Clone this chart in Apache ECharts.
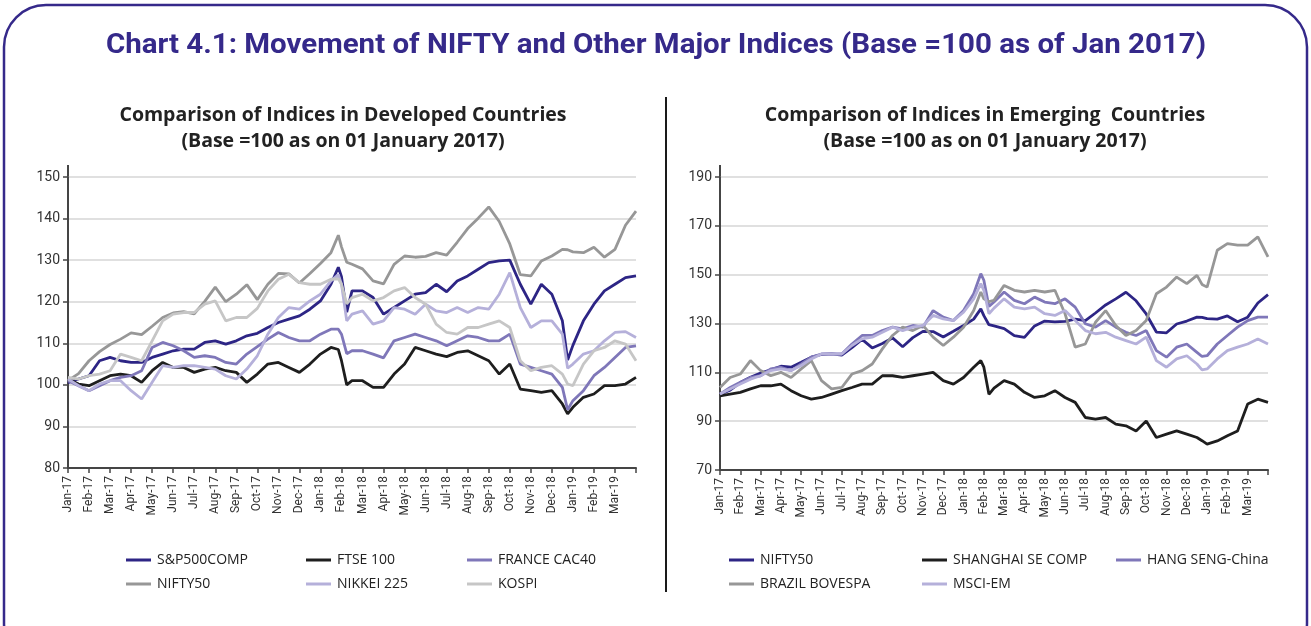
<!DOCTYPE html>
<html>
<head>
<meta charset="utf-8">
<script src="https://cdn.jsdelivr.net/npm/echarts@6/dist/echarts.min.js"></script>
<style>
  html, body { margin: 0; padding: 0; background: #fff; }
  #main { width: 1311px; height: 626px; }
</style>
</head>
<body>
<div id="main"></div>
<script>
// tick labels (one per month, Jan-17 .. Mar-19)
var monthLabels = ['Jan-17','Feb-17','Mar-17','Apr-17','May-17','Jun-17','Jul-17','Aug-17','Sep-17','Oct-17','Nov-17','Dec-17',
  'Jan-18','Feb-18','Mar-18','Apr-18','May-18','Jun-18','Jul-18','Aug-18','Sep-18','Oct-18','Nov-18','Dec-18',
  'Jan-19','Feb-19','Mar-19'];

// sample dates, in months since 1 Jan 2017
var times = [0,0.5,1,1.5,2,2.5,3,3.5,4,4.5,5,5.5,6,6.5,7,7.5,8,8.5,9,9.5,10,10.5,11,11.5,
  12,12.5,12.85,13,13.25,13.5,14,14.5,15,15.5,16,16.5,17,17.5,18,18.5,19,19.5,20,20.5,21,21.5,22,22.5,23,23.5,23.75,
  24,24.5,25,25.5,26,26.5,27];

// developed countries
var sp500 = [100.5,101.4,102.2,105.8,106.6,105.8,105.4,105.4,106.6,107.4,108.2,108.6,108.6,110.2,110.6,109.8,110.6,111.8,112.4,113.8,115,115.8,116.6,118.2,
  120.2,124.2,128.3,126,117.5,122.6,122.6,121,117,118.6,120.2,121.8,122.2,124.2,122.4,125,126.2,127.8,129.4,129.8,130,124.2,119.4,124.2,121.8,115.4,106,
  109.5,115.4,119.4,122.6,124.2,125.8,126.2];
var ftse = [101.4,100.2,99.8,101,102.2,102.6,102.2,100.6,103.4,105.4,104.2,104.2,103,103.8,104.2,103.4,103,100.6,102.6,105,105.4,104.2,103,105,
  107.4,109,108.5,105.8,100,101,101,99.4,99.4,102.6,105,109,108.2,107.4,106.8,107.8,108.2,107,105.8,102.6,105,99,98.6,98.2,98.6,95.4,93,
  94.6,97,97.8,99.8,99.8,100.2,101.8];
var cac40 = [101,99.8,98.6,99.8,101,101.8,102.2,103.4,109,110.2,109.4,108.2,106.6,107,106.6,105.4,105,107.4,109.2,111,112.6,111.4,110.6,110.6,
  112.2,113.4,113.4,112.2,107.5,108.2,108.2,107.4,106.5,110.6,111.4,112.2,111.4,110.6,109.4,110.6,111.8,111.4,110.6,110.6,112.2,105,104.2,103.4,102.6,99.4,94,
  96.2,98.6,102.2,104.2,106.6,109,109.4];
var nifty = [101,102.7,105.8,108,109.7,111,112.5,112.1,114.1,116.2,117.3,117.6,117.1,120.1,123.5,120,121.8,124.1,120.5,124.2,126.8,126.7,124.5,126.8,
  129.2,131.8,136,133.2,129.5,129,127.9,125,124.3,129,131,130.7,130.9,131.8,131.2,134.3,137.6,140.1,142.8,139.3,133.9,126.5,126.2,129.8,131,132.6,132.5,
  132,131.8,133.1,130.7,132.6,138.4,141.8];
var nikkei = [101.4,99.8,98.6,100.2,101,101,98.6,96.6,100.6,104.6,104.2,104.6,104.6,104.2,103.8,102.2,101.4,103.8,107,112.2,116.2,118.6,118.2,120.2,
  121.8,125,126.5,124.2,115.4,117,117.8,114.6,115.4,118.6,118.2,117,119.4,117.8,117.4,118.6,117.4,118.6,118.2,121.8,127,118.6,113.8,115.4,115.4,112.2,104,
  105,107.4,108.2,110.6,112.6,112.8,111.4];
var kospi = [101.8,101.4,102.2,102.6,103.4,107.4,106.6,105.8,110.6,115.4,117,117.4,117.4,119.4,120.2,115.4,116.2,116.2,118.4,122.6,125.4,126.6,124.6,124.2,
  124.2,125.4,125.5,124.2,119.5,121,121.8,120.2,121,122.6,123.4,121,119.4,114.6,112.6,112.2,113.8,113.8,114.6,115.4,113.8,105.8,103.4,104.2,104.6,102.6,100.2,
  99.8,105,108.2,109,110.6,109.8,105.8];

// emerging countries
var shanghai = [100.4,101.1,101.8,103.2,104.5,104.5,105.2,102.5,100.4,99,99.7,101.1,102.5,103.8,105.2,105.2,108.6,108.6,107.9,108.6,109.3,110,106.6,105.2,
  107.9,112.1,114.8,112.1,101,103.5,106.6,105.2,101.8,99.7,100.4,102.5,99.7,97.7,91.5,90.8,91.5,88.8,88.1,86,90.1,83.3,84.7,86,84.7,83.3,82,
  80.6,81.9,84,86,97,99,97.7];
var hangSeng = [101.1,103.8,105.9,107.9,108.6,111.4,112.1,110.7,113.4,116.2,117.5,117.5,117.5,121.6,125.1,125.1,127.1,128.5,127.8,129.2,128.5,135.3,132.6,131.2,
  135.3,142.2,150.4,147.7,137,138.8,142.9,139.5,138.1,140.8,138.8,138.1,140.1,136.7,129.9,128.5,131.2,128.5,126.4,125.1,127.1,118.9,116.2,120.3,121.6,118.2,116.5,
  116.8,121.6,125.1,128.5,131.2,132.6,132.6];
var msciEm = [101.1,103.2,105.2,107.2,108.6,110.7,111.4,110.7,112.8,115.5,117.5,117.5,117.5,121,123.7,124.4,126.4,128.5,127.1,128.5,129.2,133.3,131.9,131.2,
  134.6,140.1,146.3,143.6,134,136.3,140.1,136.7,136,136.7,134,133.3,135.3,131.2,127.1,125.8,126.4,124.4,123,121.6,124.4,114.8,112.1,115.5,116.8,113.4,111,
  111.4,115.5,118.9,120.3,121.6,123.7,121.6];
var bovespa = [103.8,107.9,109.3,114.8,110.7,108.6,110,107.9,111.4,114.8,106.6,103.2,103.8,109.3,110.7,113.4,119.6,125.1,128.5,127.1,129.2,124.4,121,124.4,
  128.5,135.3,142.9,140.1,139,139.5,145.6,143.6,142.9,143.6,142.9,143.6,134,120.3,121.6,130.5,135.3,129.2,125.1,127.1,131.2,142.2,144.9,149,146.3,149.7,146,
  144.9,160,162.7,162.1,162.1,165.5,157.3];

var navy = '#2d2585', black = '#1e1e1e', purple = '#7f77b9', grey = '#979797', lavender = '#b5b0da', lightGrey = '#c6c6c6';
var ink = '#35298a';

var leftSeries = [
  ['S&P500COMP', sp500, navy], ['FTSE 100', ftse, black], ['FRANCE CAC40', cac40, purple],
  ['NIFTY50', nifty, grey], ['NIKKEI 225', nikkei, lavender], ['KOSPI', kospi, lightGrey]
];
var rightSeries = [
  ['NIFTY50', nifty, navy], ['SHANGHAI SE COMP', shanghai, black], ['HANG SENG-China', hangSeng, purple],
  ['BRAZIL BOVESPA', bovespa, grey], ['MSCI-EM', msciEm, lavender]
];

// legend slots: icon left x, row centre y
var leftLegendPos = [[121, 557], [301, 557], [462, 557], [121, 581], [301, 581], [462, 581]];
var rightLegendPos = [[724, 557], [917, 557], [1111, 557], [724, 581], [917, 581]];

function makeSeries(item, idx) {
  return {
    name: item[0], type: 'line', xAxisIndex: idx, yAxisIndex: idx,
    data: times.map(function (t, i) { return [t, item[1][i]]; }),
    showSymbol: false, symbol: 'none', silent: true,
    lineStyle: { width: 2.8, color: item[2] }, itemStyle: { color: item[2] }
  };
}
function makeLegend(item, pos) {
  return {
    left: pos[0], top: pos[1] - 9, selectedMode: false,
    icon: 'rect', itemWidth: 25, itemHeight: 3,
    data: [{ name: item[0], itemStyle: { color: item[2] } }],
    textStyle: { fontFamily: 'Open Sans', fontSize: 14, color: '#222', padding: [0, 0, 0, 1] }
  };
}
function xAxisCfg(idx) {
  return {
    type: 'value', gridIndex: idx, min: 0, max: 27, interval: 1,
    axisLine: { show: true, lineStyle: { color: '#454545', width: 2 } },
    axisTick: { show: true, length: 5, lineStyle: { color: '#454545', width: 1.5 } },
    axisLabel: {
      rotate: 90, margin: 8, fontFamily: 'Roboto', fontSize: 12, color: '#333',
      formatter: function (v) { return monthLabels[v] || ''; }
    },
    splitLine: { show: false }
  };
}
function yAxisCfg(idx, min, max, step) {
  return {
    type: 'value', gridIndex: idx, min: min, max: max, interval: step,
    axisLine: { show: true, lineStyle: { color: '#454545', width: 2 } },
    axisTick: { show: true, length: 5, lineStyle: { color: '#454545', width: 1.5 } },
    axisLabel: { margin: 8, fontFamily: 'Roboto', fontSize: 14, color: '#333' },
    splitLine: { lineStyle: { color: '#d6d6d6', width: 1.5 } }
  };
}

var ctx = document.createElement('canvas').getContext('2d');
function fitScale(text, font, width) {
  ctx.font = font;
  return width / ctx.measureText(text).width;
}

// squeeze the main title to the width it takes in the original
var titleText = 'Chart 4.1: Movement of NIFTY and Other Major Indices (Base =100 as of Jan 2017)';
var titleFont = 'bold 28px Roboto';
var titleScale = fitScale(titleText, titleFont, 1100);

// sub-titles sized so the first line spans ~447px, as in the original
var subLeft = ['Comparison of Indices in Developed Countries', '(Base =100 as on 01 January 2017)'];
var subRight = ['Comparison of Indices in Emerging  Countries', '(Base =100 as on 01 January 2017)'];
var subSize = Math.round(18 * fitScale(subLeft[0], 'bold 18px "Open Sans"', 447) * 10) / 10;
var subStyle = { fontFamily: 'Open Sans', fontSize: subSize, fontWeight: 'bold', color: '#222', lineHeight: 26 };

var chart = echarts.init(document.getElementById('main'));
chart.setOption({
  animation: false,
  backgroundColor: '#fff',
  title: [
    { text: subLeft.join('\n'), left: 338, top: 97, textAlign: 'center', textStyle: subStyle },
    { text: subRight.join('\n'), left: 980, top: 97, textAlign: 'center', textStyle: subStyle }
  ],
  grid: [
    { left: 68, top: 177, width: 568, height: 291, outerBoundsMode: 'none' },
    { left: 720, top: 177, width: 548, height: 293, outerBoundsMode: 'none' }
  ],
  xAxis: [xAxisCfg(0), xAxisCfg(1)],
  yAxis: [yAxisCfg(0, 80, 150, 10), yAxisCfg(1, 70, 190, 20)],
  legend: leftSeries.map(function (s, i) { return makeLegend(s, leftLegendPos[i]); })
    .concat(rightSeries.map(function (s, i) { return makeLegend(s, rightLegendPos[i]); })),
  series: leftSeries.map(function (s) { return makeSeries(s, 0); })
    .concat(rightSeries.map(function (s) { return makeSeries(s, 1); })),
  graphic: [
    { type: 'rect', shape: { x: 4, y: 5, width: 1303, height: 660, r: 42 }, style: { fill: 'none', stroke: ink, lineWidth: 2.5 } },
    { type: 'text', x: 656, y: 46, scaleX: titleScale, style: { text: titleText, font: titleFont, fill: ink, textAlign: 'center', textVerticalAlign: 'middle' } },
    { type: 'line', shape: { x1: 666, y1: 97, x2: 666, y2: 592 }, style: { stroke: '#1a1a1a', lineWidth: 2 } },
    { type: 'line', shape: { x1: 68, y1: 165, x2: 68, y2: 177 }, style: { stroke: '#454545', lineWidth: 2 } },
    { type: 'line', shape: { x1: 720, y1: 165, x2: 720, y2: 177 }, style: { stroke: '#454545', lineWidth: 2 } }
  ]
});
</script>
</body>
</html>
